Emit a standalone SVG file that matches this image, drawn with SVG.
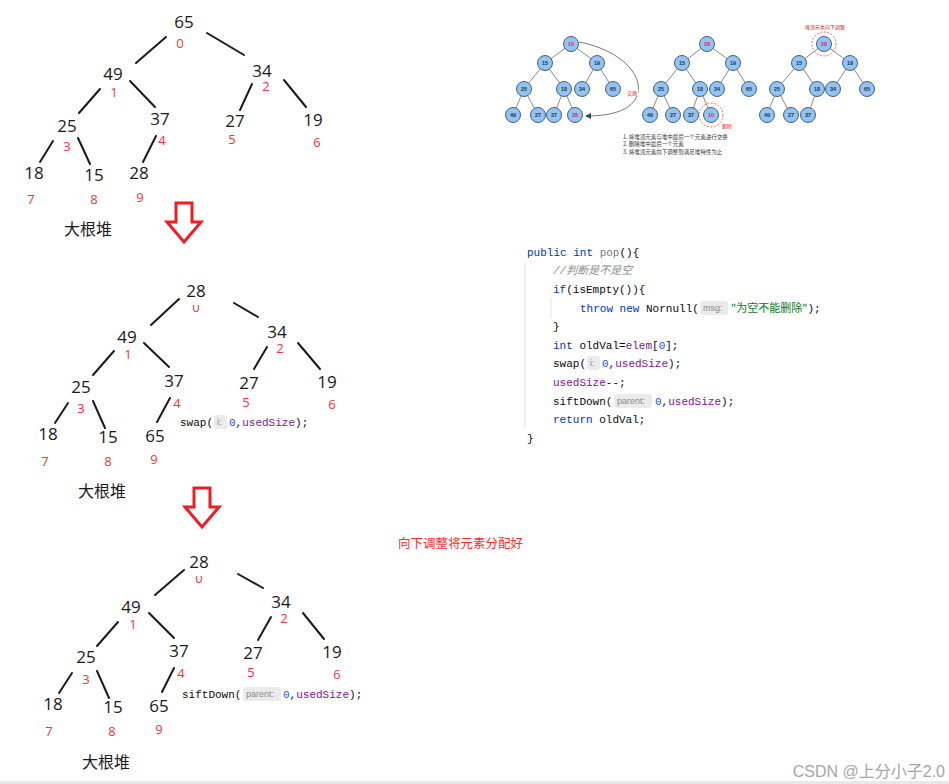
<svg xmlns="http://www.w3.org/2000/svg" width="949" height="784" viewBox="0 0 949 784">
<style>
.v{font-family:"Open Sans","Noto Sans",sans-serif;font-size:17px;fill:#1a1a1a;text-anchor:middle}
.i{font-family:"Open Sans","Noto Sans",sans-serif;font-size:13px;fill:#f0343c;text-anchor:middle}
.e{stroke:#1a1a1a;stroke-width:2;stroke-linecap:round;fill:none}
.t{font-family:"Noto Sans CJK SC",sans-serif;font-size:16px;fill:#1a1a1a;text-anchor:middle}
.ar{fill:#fff;stroke:#f01c24;stroke-width:3;stroke-linejoin:miter}
.c{font-family:"Liberation Mono","DejaVu Sans Mono",monospace;font-size:11px;fill:#080808}
.kw{fill:#0033b3}
.gr{fill:#7a7a7a}
.pu{fill:#871094}
.nu{fill:#1750eb}
.st{fill:#067d17;font-family:"Noto Sans CJK SC",monospace}
.cm{font-family:"Liberation Mono","Noto Sans CJK SC",monospace;font-style:italic;fill:#8c8c8c}
.hb{fill:#ebebeb}
.ht{font-family:"Liberation Sans",sans-serif;font-size:9px;fill:#8a8a8a}
.te{stroke:#6b6b6b;stroke-width:0.8;fill:none}
.tn{fill:#90c4f6;stroke:#4d5f70;stroke-width:1}
.tt{font-family:"Liberation Sans",sans-serif;font-size:5.5px;font-weight:bold;fill:#333;text-anchor:middle}
.tr{fill:#e0245e}
.dc{fill:none;stroke:#f04848;stroke-width:0.8;stroke-dasharray:2 1.5}
.rl{font-family:"Noto Sans CJK SC",sans-serif;font-size:5px;fill:#e02020;text-anchor:middle}
.sl{font-family:"Noto Sans CJK SC",sans-serif;font-size:5.5px;fill:#333}
</style>
<defs>
<clipPath id="cz1"><rect x="185" y="305" width="22" height="8"/></clipPath>
<clipPath id="cz2"><rect x="188" y="576" width="22" height="8"/></clipPath>
<marker id="ah" markerWidth="6" markerHeight="6" refX="5" refY="3" orient="auto" markerUnits="userSpaceOnUse"><path d="M0,0 L6,3 L0,6 z" fill="#444"/></marker>
</defs>
<rect width="949" height="784" fill="#fff"/>

<!-- ===== Tree 1 ===== -->
<g id="t1-edges">
<line class="e" x1="166" y1="37" x2="136" y2="63"/>
<line class="e" x1="207" y1="33" x2="244" y2="55"/>
<line class="e" x1="100" y1="89" x2="79" y2="113"/>
<line class="e" x1="130" y1="81" x2="155" y2="107"/>
<line class="e" x1="252" y1="84" x2="240" y2="110"/>
<line class="e" x1="284" y1="80" x2="306" y2="107"/>
<line class="e" x1="53" y1="141" x2="40" y2="162"/>
<line class="e" x1="78" y1="138" x2="90" y2="164"/>
<line class="e" x1="156" y1="136" x2="143" y2="162"/>
</g>
<g id="t1-n0"><text class="v" x="184" y="28">65</text><text class="i" x="180" y="48">0</text></g>
<g id="t1-n1"><text class="v" x="113" y="80">49</text><text class="i" x="114" y="97">1</text></g>
<g id="t1-n2"><text class="v" x="262" y="77">34</text><text class="i" x="266" y="91">2</text></g>
<g id="t1-n3"><text class="v" x="67" y="132">25</text><text class="i" x="67" y="151">3</text></g>
<g id="t1-n4"><text class="v" x="160" y="125">37</text><text class="i" x="162" y="145">4</text></g>
<g id="t1-n5"><text class="v" x="235" y="127">27</text><text class="i" x="232" y="144">5</text></g>
<g id="t1-n6"><text class="v" x="313" y="126">19</text><text class="i" x="317" y="147">6</text></g>
<g id="t1-n7"><text class="v" x="34" y="179">18</text><text class="i" x="31" y="204">7</text></g>
<g id="t1-n8"><text class="v" x="94" y="181">15</text><text class="i" x="94" y="204">8</text></g>
<g id="t1-n9"><text class="v" x="139" y="179">28</text><text class="i" x="140" y="202">9</text></g>
<text class="t" x="88" y="235">大根堆</text>
<polygon id="arrow1" class="ar" points="176,203 192,203 192,222 201,222 184,242 167,222 176,222"/>

<!-- ===== Tree 2 ===== -->
<g id="t2-edges">
<line class="e" x1="179" y1="299" x2="151" y2="325"/>
<line class="e" x1="234" y1="303" x2="258" y2="317"/>
<line class="e" x1="114" y1="351" x2="93" y2="375"/>
<line class="e" x1="144" y1="343" x2="169" y2="367"/>
<line class="e" x1="267" y1="347" x2="254" y2="369"/>
<line class="e" x1="298" y1="343" x2="320" y2="369"/>
<line class="e" x1="68" y1="403" x2="55" y2="423"/>
<line class="e" x1="93" y1="401" x2="105" y2="428"/>
<line class="e" x1="170" y1="398" x2="157" y2="422"/>
</g>
<g id="t2-n0"><text class="v" x="196" y="297">28</text><text class="i" x="196" y="312" clip-path="url(#cz1)">0</text></g>
<g id="t2-n1"><text class="v" x="127" y="343">49</text><text class="i" x="128" y="359">1</text></g>
<g id="t2-n2"><text class="v" x="277" y="338">34</text><text class="i" x="280" y="353">2</text></g>
<g id="t2-n3"><text class="v" x="81" y="393">25</text><text class="i" x="81" y="413">3</text></g>
<g id="t2-n4"><text class="v" x="174" y="387">37</text><text class="i" x="177" y="408">4</text></g>
<g id="t2-n5"><text class="v" x="249" y="389">27</text><text class="i" x="246" y="407">5</text></g>
<g id="t2-n6"><text class="v" x="327" y="388">19</text><text class="i" x="332" y="409">6</text></g>
<g id="t2-n7"><text class="v" x="48" y="440">18</text><text class="i" x="45" y="466">7</text></g>
<g id="t2-n8"><text class="v" x="108" y="443">15</text><text class="i" x="108" y="466">8</text></g>
<g id="t2-n9"><text class="v" x="155" y="442">65</text><text class="i" x="154" y="464">9</text></g>
<g id="t2-code">
<text class="c" x="180" y="426">swap(</text>
<rect class="hb" x="214" y="415" width="13" height="14" rx="3"/>
<text class="ht" x="217" y="425">i:</text>
<text class="c" x="229" y="426"><tspan class="nu">0</tspan>,<tspan class="pu">usedSize</tspan>);</text>
</g>
<text class="t" x="102" y="497">大根堆</text>
<polygon id="arrow2" class="ar" points="194,488 210,488 210,507 219,507 202,527 185,507 194,507"/>

<!-- ===== Tree 3 ===== -->
<g id="t3-edges">
<line class="e" x1="184" y1="570" x2="155" y2="595"/>
<line class="e" x1="238" y1="574" x2="263" y2="588"/>
<line class="e" x1="118" y1="622" x2="97" y2="646"/>
<line class="e" x1="149" y1="613" x2="174" y2="638"/>
<line class="e" x1="271" y1="617" x2="258" y2="640"/>
<line class="e" x1="303" y1="613" x2="324" y2="639"/>
<line class="e" x1="72" y1="673" x2="59" y2="693"/>
<line class="e" x1="97" y1="671" x2="109" y2="698"/>
<line class="e" x1="174" y1="668" x2="162" y2="692"/>
</g>
<g id="t3-n0"><text class="v" x="199" y="568">28</text><text class="i" x="199" y="583" clip-path="url(#cz2)">0</text></g>
<g id="t3-n1"><text class="v" x="131" y="613">49</text><text class="i" x="133" y="629">1</text></g>
<g id="t3-n2"><text class="v" x="281" y="608">34</text><text class="i" x="284" y="623">2</text></g>
<g id="t3-n3"><text class="v" x="86" y="663">25</text><text class="i" x="86" y="684">3</text></g>
<g id="t3-n4"><text class="v" x="179" y="657">37</text><text class="i" x="181" y="678">4</text></g>
<g id="t3-n5"><text class="v" x="253" y="659">27</text><text class="i" x="251" y="677">5</text></g>
<g id="t3-n6"><text class="v" x="332" y="658">19</text><text class="i" x="337" y="679">6</text></g>
<g id="t3-n7"><text class="v" x="53" y="710">18</text><text class="i" x="49" y="736">7</text></g>
<g id="t3-n8"><text class="v" x="113" y="713">15</text><text class="i" x="112" y="736">8</text></g>
<g id="t3-n9"><text class="v" x="159" y="712">65</text><text class="i" x="159" y="734">9</text></g>
<g id="t3-code">
<text class="c" x="182" y="698">siftDown(</text>
<rect class="hb" x="243" y="687" width="38" height="14" rx="3"/>
<text class="ht" x="246" y="697">parent:</text>
<text class="c" x="283" y="698"><tspan class="nu">0</tspan>,<tspan class="pu">usedSize</tspan>);</text>
</g>
<text class="t" x="106" y="768">大根堆</text>

<!-- ===== red note ===== -->
<text x="398" y="548" style="font-family:'Noto Sans CJK SC',sans-serif;font-size:12.5px;fill:#ff2b2b">向下调整将元素分配好</text>

<!-- ===== code block ===== -->
<g id="code">
<line x1="525" y1="263" x2="525" y2="428" stroke="#e3e3e3" stroke-width="1"/>
<line x1="551" y1="298" x2="551" y2="318" stroke="#e3e3e3" stroke-width="1"/>
<text class="c" x="527" y="256"><tspan class="kw">public int</tspan> <tspan class="gr">pop</tspan>(){</text>
<text class="c cm" x="553" y="274">//判断是不是空</text>
<text class="c" x="553" y="293"><tspan class="kw">if</tspan>(isEmpty()){</text>
<text class="c" x="580" y="312"><tspan class="kw">throw new</tspan> Nornull(</text>
<rect class="hb" x="700" y="301" width="28" height="14" rx="3"/>
<text class="ht" x="703" y="311">msg:</text>
<text class="c" x="731" y="312"><tspan class="st">"为空不能删除"</tspan>);</text>
<text class="c" x="553" y="330">}</text>
<text class="c" x="553" y="349"><tspan class="kw">int</tspan> oldVal=<tspan class="pu">elem</tspan>[<tspan class="nu">0</tspan>];</text>
<text class="c" x="553" y="367">swap(</text>
<rect class="hb" x="587" y="356" width="13" height="14" rx="3"/>
<text class="ht" x="590" y="366">i:</text>
<text class="c" x="602" y="367"><tspan class="nu">0</tspan>,<tspan class="pu">usedSize</tspan>);</text>
<text class="c" x="553" y="386"><tspan class="pu">usedSize</tspan>--;</text>
<text class="c" x="553" y="405">siftDown(</text>
<rect class="hb" x="614" y="394" width="38" height="14" rx="3"/>
<text class="ht" x="617" y="404">parent:</text>
<text class="c" x="655" y="405"><tspan class="nu">0</tspan>,<tspan class="pu">usedSize</tspan>);</text>
<text class="c" x="553" y="423"><tspan class="kw">return</tspan> oldVal;</text>
<text class="c" x="527" y="442">}</text>
</g>

<!-- ===== thumbnail ===== -->
<g id="thumb">
<g class="te">
<path d="M571,44 L545,63 M571,44 L597,63 M545,63 L524,89 M545,63 L564,89 M597,63 L582,89 M597,63 L613,89 M524,89 L513,115 M524,89 L538,115 M564,89 L554,115 M564,89 L575,115"/>
<path d="M707,44 L682,63 M707,44 L733,63 M682,63 L661,89 M682,63 L700,89 M733,63 L717,89 M733,63 L749,89 M661,89 L650,115 M661,89 L673,115 M700,89 L691,115 M700,89 L711,115"/>
<path d="M824,44 L799,63 M824,44 L850,63 M799,63 L777,89 M799,63 L817,89 M850,63 L833,89 M850,63 L867,89 M777,89 L767,115 M777,89 L791,115 M817,89 L808,115"/>
</g>
<path d="M579,42 C622,50 648,78 635,100 C626,113 605,116 586,116" fill="none" stroke="#555" stroke-width="0.8" marker-end="url(#ah)"/>
<rect x="626" y="89" width="12" height="7" fill="#fff"/>
<text class="rl" x="632" y="94.5">交换</text>
<g id="thA">
<circle class="tn" cx="571" cy="44" r="7.5"/><text class="tt tr" x="571" y="46">10</text>
<circle class="tn" cx="545" cy="63" r="7.5"/><text class="tt" x="545" y="65">15</text>
<circle class="tn" cx="597" cy="63" r="7.5"/><text class="tt" x="597" y="65">19</text>
<circle class="tn" cx="524" cy="89" r="7.5"/><text class="tt" x="524" y="91">25</text>
<circle class="tn" cx="564" cy="89" r="7.5"/><text class="tt" x="564" y="91">18</text>
<circle class="tn" cx="582" cy="89" r="7.5"/><text class="tt" x="582" y="91">34</text>
<circle class="tn" cx="613" cy="89" r="7.5"/><text class="tt" x="613" y="91">65</text>
<circle class="tn" cx="513" cy="115" r="7.5"/><text class="tt" x="513" y="117">49</text>
<circle class="tn" cx="538" cy="115" r="7.5"/><text class="tt" x="538" y="117">27</text>
<circle class="tn" cx="554" cy="115" r="7.5"/><text class="tt" x="554" y="117">37</text>
<circle class="tn" cx="575" cy="115" r="7.5"/><text class="tt tr" x="575" y="117">28</text>
</g>
<g id="thB">
<circle class="tn" cx="707" cy="44" r="7.5"/><text class="tt tr" x="707" y="46">28</text>
<circle class="tn" cx="682" cy="63" r="7.5"/><text class="tt" x="682" y="65">15</text>
<circle class="tn" cx="733" cy="63" r="7.5"/><text class="tt" x="733" y="65">19</text>
<circle class="tn" cx="661" cy="89" r="7.5"/><text class="tt" x="661" y="91">25</text>
<circle class="tn" cx="700" cy="89" r="7.5"/><text class="tt" x="700" y="91">18</text>
<circle class="tn" cx="717" cy="89" r="7.5"/><text class="tt" x="717" y="91">34</text>
<circle class="tn" cx="749" cy="89" r="7.5"/><text class="tt" x="749" y="91">65</text>
<circle class="tn" cx="650" cy="115" r="7.5"/><text class="tt" x="650" y="117">49</text>
<circle class="tn" cx="673" cy="115" r="7.5"/><text class="tt" x="673" y="117">27</text>
<circle class="tn" cx="691" cy="115" r="7.5"/><text class="tt" x="691" y="117">37</text>
<circle class="tn" cx="711" cy="115" r="7.5"/><text class="tt tr" x="711" y="117">10</text>
<circle class="dc" cx="711" cy="115" r="12"/>
<text class="rl" x="727" y="128">删除</text>
</g>
<g id="thC">
<text class="rl" x="825" y="29">堆顶元素向下调整</text>
<circle class="tn" cx="824" cy="44" r="7.5"/><text class="tt tr" x="824" y="46">28</text>
<circle class="dc" cx="824" cy="44" r="12"/>
<circle class="tn" cx="799" cy="63" r="7.5"/><text class="tt" x="799" y="65">15</text>
<circle class="tn" cx="850" cy="63" r="7.5"/><text class="tt" x="850" y="65">19</text>
<circle class="tn" cx="777" cy="89" r="7.5"/><text class="tt" x="777" y="91">25</text>
<circle class="tn" cx="817" cy="89" r="7.5"/><text class="tt" x="817" y="91">18</text>
<circle class="tn" cx="833" cy="89" r="7.5"/><text class="tt" x="833" y="91">34</text>
<circle class="tn" cx="867" cy="89" r="7.5"/><text class="tt" x="867" y="91">65</text>
<circle class="tn" cx="767" cy="115" r="7.5"/><text class="tt" x="767" y="117">49</text>
<circle class="tn" cx="791" cy="115" r="7.5"/><text class="tt" x="791" y="117">27</text>
<circle class="tn" cx="808" cy="115" r="7.5"/><text class="tt" x="808" y="117">37</text>
</g>
<text class="sl" x="623" y="139">1. 将堆顶元素与堆中最后一个元素进行交换</text>
<text class="sl" x="623" y="146">2. 删除堆中最后一个元素</text>
<text class="sl" x="623" y="153.5">3. 将堆顶元素向下调整到满足堆特性为止</text>
</g>

<!-- ===== footer ===== -->
<rect x="0" y="781" width="949" height="3" fill="#e8e8e8"/>
<text x="945" y="777" text-anchor="end" style="font-family:'Liberation Sans','Noto Sans CJK SC',sans-serif;font-size:16px;fill:#a6a6a6">CSDN @上分小子2.0</text>
</svg>
